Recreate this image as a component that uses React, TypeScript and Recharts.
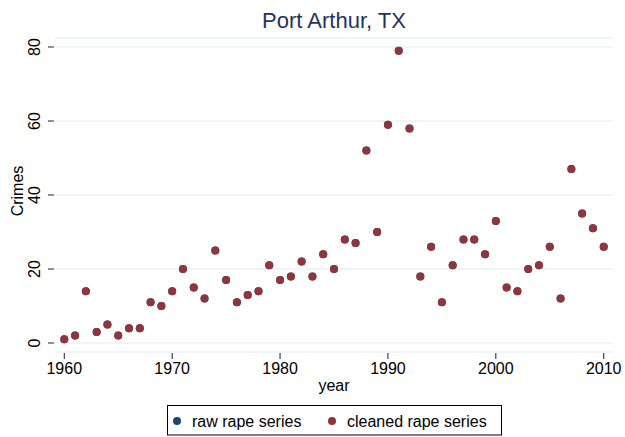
import React from 'react';
import { ScatterChart, Scatter, XAxis, YAxis, CartesianGrid, Label } from 'recharts';

const FONT = 'Liberation Sans, Arial, Helvetica, sans-serif';

// years 1960..2010
const years = [
  1960, 1961, 1962, 1963, 1964, 1965, 1966, 1967, 1968, 1969,
  1970, 1971, 1972, 1973, 1974, 1975, 1976, 1977, 1978, 1979,
  1980, 1981, 1982, 1983, 1984, 1985, 1986, 1987, 1988, 1989,
  1990, 1991, 1992, 1993, 1994, 1995, 1996, 1997, 1998, 1999,
  2000, 2001, 2002, 2003, 2004, 2005, 2006, 2007, 2008, 2009, 2010,
];

// raw series sits right under the cleaned one (same counts)
const rawRape = [
  1, 2, 14, 3, 5, 2, 4, 4, 11, 10,
  14, 20, 15, 12, 25, 17, 11, 13, 14, 21,
  17, 18, 22, 18, 24, 20, 28, 27, 52, 30,
  59, 79, 58, 18, 26, 11, 21, 28, 28, 24,
  33, 15, 14, 20, 21, 26, 12, 47, 35, 31, 26,
];

const cleanedRape = [
  1, 2, 14, 3, 5, 2, 4, 4, 11, 10,
  14, 20, 15, 12, 25, 17, 11, 13, 14, 21,
  17, 18, 22, 18, 24, 20, 28, 27, 52, 30,
  59, 79, 58, 18, 26, 11, 21, 28, 28, 24,
  33, 15, 14, 20, 21, 26, 12, 47, 35, 31, 26,
];

const xTicks = [1960, 1970, 1980, 1990, 2000, 2010];
const yTicks = [0, 20, 40, 60, 80];

const seriesNames = ['raw rape series', 'cleaned rape series'];
const seriesColors = ['#1a476f', '#90353b'];

const rawData = years.map((year, i) => ({ year, value: rawRape[i] }));
const cleanedData = years.map((year, i) => ({ year, value: cleanedRape[i] }));

const FS = 16;

const XTick = ({ x, y, payload }: any) => (
  <g>
    <line x1={x} x2={x} y1={y + 1} y2={y + 7} stroke="#222" />
    <text x={x} y={y + 22} textAnchor="middle" fontSize={FS} fontFamily={FONT} fill="#000">
      {payload.value}
    </text>
  </g>
);

const YTick = ({ x, y, payload }: any) => (
  <g>
    <line x1={x - 7} x2={x - 1} y1={y} y2={y} stroke="#222" />
    <text
      x={x - 15}
      y={y}
      transform={`rotate(-90 ${x - 15} ${y})`}
      textAnchor="middle"
      fontSize={FS}
      fontFamily={FONT}
      fill="#000"
    >
      {payload.value}
    </text>
  </g>
);

const dot = (color: string) => (props: any) => (
  <circle cx={props.cx} cy={props.cy} r={4} fill={color} />
);

export default function App() {
  return (
    <div style={{ position: 'absolute', left: 0, top: 0, width: 625, height: 437, background: '#fff' }}>
      <ScatterChart
        width={625}
        height={437}
        margin={{ top: 38, right: 12, left: 5, bottom: 45 }}
      >
        <CartesianGrid vertical={false} stroke="#e4ebef" strokeWidth={1} />
        <XAxis
          type="number"
          dataKey="year"
          domain={[1959.14, 2010.86]}
          ticks={xTicks}
          interval={0}
          height={40}
          axisLine={false}
          tickLine={false}
          tickSize={0}
          tickMargin={0}
          tick={<XTick />}
        >
          <Label
            content={({ viewBox }: any) => (
              <text
                x={viewBox.x + viewBox.width / 2}
                y={viewBox.y + 39}
                textAnchor="middle"
                fontSize={FS}
                fontFamily={FONT}
                fill="#000"
              >
                year
              </text>
            )}
          />
        </XAxis>
        <YAxis
          type="number"
          dataKey="value"
          domain={[-2.43, 82.43]}
          ticks={yTicks}
          interval={0}
          width={50}
          axisLine={false}
          tickLine={false}
          tickSize={0}
          tickMargin={0}
          tick={<YTick />}
        >
          <Label
            content={({ viewBox }: any) => {
              const cx = 23;
              const cy = viewBox.y + viewBox.height / 2 - 4;
              return (
                <text
                  x={cx}
                  y={cy}
                  transform={`rotate(-90 ${cx} ${cy})`}
                  textAnchor="middle"
                  fontSize={FS}
                  fontFamily={FONT}
                  fill="#000"
                >
                  Crimes
                </text>
              );
            }}
          />
        </YAxis>
        <Scatter
          name={seriesNames[0]}
          data={rawData}
          fill={seriesColors[0]}
          shape={dot(seriesColors[0])}
          isAnimationActive={false}
        />
        <Scatter
          name={seriesNames[1]}
          data={cleanedData}
          fill={seriesColors[1]}
          shape={dot(seriesColors[1])}
          isAnimationActive={false}
        />
      </ScatterChart>

      {/* title + legend overlay */}
      <svg
        width={625}
        height={437}
        style={{ position: 'absolute', left: 0, top: 0, pointerEvents: 'none' }}
      >
        <text x={334} y={28} textAnchor="middle" fontSize={22} fontFamily={FONT} fill="#1e3560">
          Port Arthur, TX
        </text>
        <rect x={167.5} y={405.5} width={334} height={29.5} fill="#fff" stroke="#000" />
        <circle cx={177} cy={421} r={4} fill={seriesColors[0]} />
        <text x={192} y={427} fontSize={FS} fontFamily={FONT} fill="#000">
          {seriesNames[0]}
        </text>
        <circle cx={332} cy={421} r={4} fill={seriesColors[1]} />
        <text x={347} y={427} fontSize={FS} fontFamily={FONT} fill="#000">
          {seriesNames[1]}
        </text>
      </svg>
    </div>
  );
}
